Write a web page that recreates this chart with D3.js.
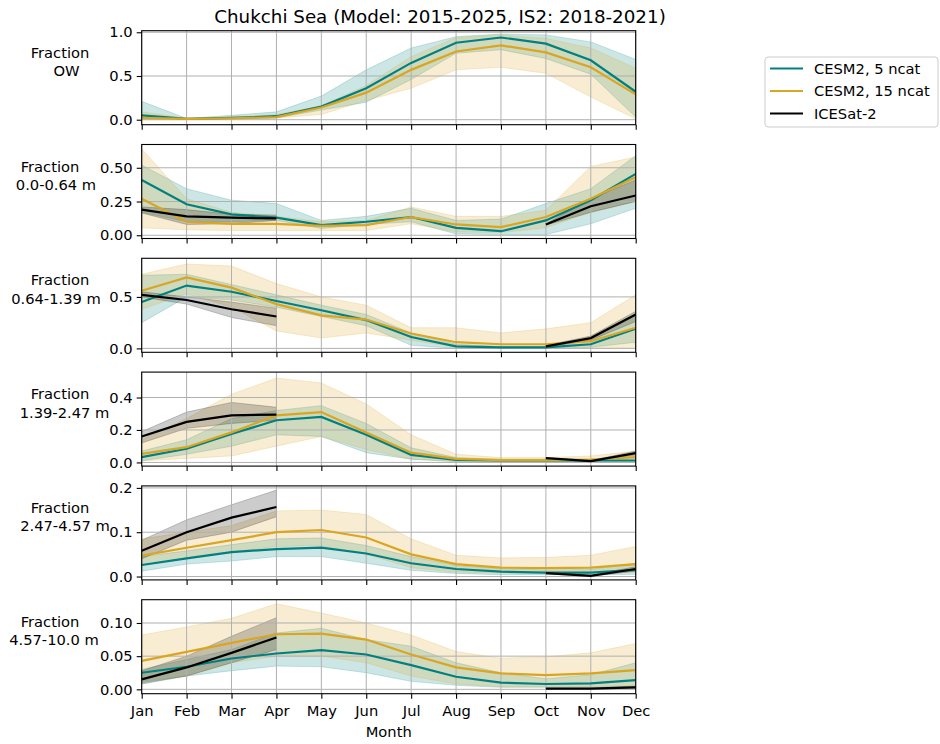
<!DOCTYPE html>
<html lang="en">
    <head>
        <meta charset="utf-8">
        <title>D3</title>
        <script type="text/javascript" src="https://cdnjs.cloudflare.com/ajax/libs/d3/7.8.5/d3.min.js"></script>
        <style type="text/css">
            body { margin: 0; background: #fff; }
            text { font-family: "DejaVu Sans", sans-serif; fill: #000; }
        </style>
    </head>
    <body>
        <script type="text/javascript">
            var months = ["Jan","Feb","Mar","Apr","May","Jun","Jul","Aug","Sep","Oct","Nov","Dec"];

            var panelLabels = [
                ["Fraction", "OW"],
                ["Fraction", "0.0-0.64 m"],
                ["Fraction", "0.64-1.39 m"],
                ["Fraction", "1.39-2.47 m"],
                ["Fraction", "2.47-4.57 m"],
                ["Fraction", "4.57-10.0 m"]
            ];

            var yTicks = [
                [0, 0.5, 1.0],
                [0, 0.25, 0.5],
                [0, 0.5],
                [0, 0.2, 0.4],
                [0, 0.1, 0.2],
                [0, 0.05, 0.1]
            ];
            var yTickFormats = [".1f", ".2f", ".1f", ".1f", ".1f", ".2f"];
            var yLimits = [
                [-0.057, 1.018],
                [-0.024, 0.6725],
                [-0.038, 0.875],
                [-0.0226, 0.5566],
                [-0.0076, 0.2045],
                [-0.0066, 0.1351]
            ];

            // CESM2, 5 ncat
            var c5Mean = [
                [0.05, 0.01, 0.02, 0.04, 0.15, 0.36, 0.65, 0.88, 0.94, 0.87, 0.68, 0.32],
                [0.41, 0.23, 0.155, 0.13, 0.075, 0.10, 0.135, 0.055, 0.03, 0.11, 0.26, 0.455],
                [0.45, 0.61, 0.55, 0.46, 0.37, 0.275, 0.11, 0.02, 0.01, 0.01, 0.04, 0.19],
                [0.033, 0.084, 0.175, 0.26, 0.28, 0.17, 0.047, 0.016, 0.012, 0.012, 0.012, 0.012],
                [0.026, 0.041, 0.055, 0.062, 0.065, 0.052, 0.03, 0.017, 0.011, 0.009, 0.009, 0.015],
                [0.025, 0.034, 0.0465, 0.054, 0.059, 0.0525, 0.0365, 0.019, 0.010, 0.008, 0.009, 0.014]
            ];
            var c5Lo = [
                [0.01, 0.005, 0.01, 0.02, 0.11, 0.20, 0.46, 0.76, 0.80, 0.70, 0.52, 0.03],
                [0.17, 0.10, 0.10, 0.11, 0.05, 0.08, 0.10, 0.01, 0.005, 0.005, 0.085, 0.20],
                [0.25, 0.50, 0.47, 0.40, 0.31, 0.22, 0.03, 0.0, 0.0, 0.0, 0.01, 0.06],
                [0.01, 0.05, 0.10, 0.17, 0.16, 0.06, 0.02, 0.005, 0.005, 0.005, 0.005, 0.005],
                [0.012, 0.028, 0.035, 0.045, 0.045, 0.03, 0.014, 0.007, 0.004, 0.004, 0.004, 0.005],
                [0.01, 0.02, 0.028, 0.035, 0.034, 0.025, 0.012, 0.006, 0.003, 0.003, 0.003, 0.004]
            ];
            var c5Hi = [
                [0.21, 0.015, 0.05, 0.09, 0.27, 0.57, 0.82, 0.95, 0.98, 0.97, 0.89, 0.69],
                [0.52, 0.345, 0.26, 0.235, 0.11, 0.14, 0.20, 0.11, 0.12, 0.235, 0.345, 0.59],
                [0.71, 0.72, 0.62, 0.52, 0.42, 0.33, 0.15, 0.04, 0.02, 0.02, 0.08, 0.32],
                [0.07, 0.14, 0.27, 0.32, 0.35, 0.24, 0.09, 0.03, 0.02, 0.02, 0.02, 0.03],
                [0.045, 0.058, 0.072, 0.085, 0.087, 0.07, 0.045, 0.025, 0.018, 0.015, 0.016, 0.03],
                [0.03, 0.045, 0.06, 0.085, 0.092, 0.075, 0.065, 0.04, 0.025, 0.016, 0.022, 0.04]
            ];

            // CESM2, 15 ncat
            var c15Mean = [
                [0.02, 0.01, 0.015, 0.03, 0.14, 0.31, 0.57, 0.78, 0.85, 0.77, 0.60, 0.29],
                [0.27, 0.10, 0.085, 0.085, 0.07, 0.075, 0.135, 0.08, 0.06, 0.135, 0.27, 0.43],
                [0.56, 0.69, 0.59, 0.43, 0.32, 0.28, 0.145, 0.06, 0.04, 0.04, 0.07, 0.20],
                [0.053, 0.094, 0.185, 0.29, 0.31, 0.185, 0.06, 0.022, 0.014, 0.014, 0.018, 0.033],
                [0.047, 0.065, 0.082, 0.10, 0.105, 0.088, 0.05, 0.028, 0.02, 0.019, 0.02, 0.028],
                [0.043, 0.0565, 0.07, 0.083, 0.084, 0.075, 0.0525, 0.033, 0.024, 0.0215, 0.024, 0.029]
            ];
            var c15Lo = [
                [0.0, 0.0, 0.005, 0.02, 0.06, 0.22, 0.36, 0.57, 0.60, 0.53, 0.26, 0.01],
                [0.055, 0.04, 0.035, 0.035, 0.035, 0.035, 0.085, 0.025, 0.02, 0.055, 0.17, 0.25],
                [0.38, 0.53, 0.40, 0.17, 0.10, 0.15, 0.08, 0.01, 0.005, 0.005, 0.005, 0.005],
                [0.01, 0.025, 0.04, 0.10, 0.16, 0.08, 0.02, 0.005, 0.005, 0.005, 0.005, 0.005],
                [0.025, 0.04, 0.055, 0.068, 0.07, 0.05, 0.02, 0.01, 0.008, 0.007, 0.007, 0.01],
                [0.012, 0.02, 0.04, 0.05, 0.05, 0.04, 0.02, 0.008, 0.004, 0.004, 0.004, 0.006]
            ];
            var c15Hi = [
                [0.09, 0.015, 0.03, 0.06, 0.16, 0.39, 0.72, 0.94, 0.97, 0.93, 0.82, 0.59],
                [0.64, 0.27, 0.17, 0.14, 0.10, 0.11, 0.21, 0.14, 0.14, 0.185, 0.51, 0.58],
                [0.72, 0.82, 0.80, 0.63, 0.50, 0.42, 0.20, 0.20, 0.15, 0.19, 0.25, 0.52],
                [0.14, 0.27, 0.42, 0.52, 0.49, 0.36, 0.17, 0.05, 0.03, 0.03, 0.04, 0.07],
                [0.085, 0.10, 0.115, 0.148, 0.15, 0.14, 0.085, 0.048, 0.042, 0.043, 0.048, 0.068],
                [0.082, 0.094, 0.107, 0.129, 0.115, 0.10, 0.082, 0.057, 0.047, 0.049, 0.055, 0.069]
            ];

            // ICESat-2 (no summer months, no open water)
            var n = null;
            var is2Mean = [
                [n, n, n, n, n, n, n, n, n, n, n, n],
                [0.19, 0.14, 0.13, 0.125, n, n, n, n, n, 0.08, 0.215, 0.295],
                [0.52, 0.47, 0.38, 0.31, n, n, n, n, n, 0.02, 0.10, 0.33],
                [0.16, 0.25, 0.29, 0.295, n, n, n, n, n, 0.026, 0.008, 0.057],
                [0.058, 0.10, 0.133, 0.157, n, n, n, n, n, 0.0075, 0.0015, 0.017],
                [0.015, 0.033, 0.055, 0.078, n, n, n, n, n, 0.001, 0.001, 0.003]
            ];
            var is2Lo = [
                [n, n, n, n, n, n, n, n, n, n, n, n],
                [0.165, 0.08, 0.085, 0.11, n, n, n, n, n, 0.075, 0.17, 0.25],
                [0.50, 0.43, 0.30, 0.22, n, n, n, n, n, 0.01, 0.08, 0.26],
                [0.12, 0.21, 0.24, 0.26, n, n, n, n, n, 0.02, 0.004, 0.045],
                [0.04, 0.082, 0.10, 0.135, n, n, n, n, n, 0.006, 0.001, 0.012],
                [0.008, 0.02, 0.04, 0.06, n, n, n, n, n, 0.0, 0.0, 0.001]
            ];
            var is2Hi = [
                [n, n, n, n, n, n, n, n, n, n, n, n],
                [0.21, 0.19, 0.155, 0.15, n, n, n, n, n, 0.085, 0.27, 0.41],
                [0.55, 0.50, 0.45, 0.39, n, n, n, n, n, 0.03, 0.12, 0.36],
                [0.19, 0.31, 0.37, 0.34, n, n, n, n, n, 0.03, 0.012, 0.07],
                [0.082, 0.128, 0.162, 0.195, n, n, n, n, n, 0.009, 0.003, 0.022],
                [0.028, 0.05, 0.08, 0.108, n, n, n, n, n, 0.002, 0.002, 0.005]
            ];

            var seriesNames = ["CESM2, 5 ncat", "CESM2, 15 ncat", "ICESat-2"];
            var seriesColors = ["#008080", "#daa520", "#000000"];

            var w = 940;
            var h = 744;
            var left = 141.7, right = 635.7;
            var top0 = 30.7, step = 113.8, ph = 94;

            var svg = d3.select("body")
                        .append("svg")
                        .attr("width", w)
                        .attr("height", h);

            var x = d3.scalePoint()
                      .domain(months)
                      .range([left, right]);

            // suptitle sits a bit right of the axes centre in the reference
            svg.append("text")
               .attr("x", 440)
               .attr("y", 22.5)
               .attr("text-anchor", "middle")
               .attr("font-size", "18.3px")
               .text("Chukchi Sea (Model: 2015-2025, IS2: 2018-2021)");

            var labelX = [[60, 66.5], [50, 56], [60, 56], [60, 64.5], [60, 65], [50, 54]];

            panelLabels.forEach(function(lab, p) {
                var t = top0 + p * step;
                var y = d3.scaleLinear()
                          .domain(yLimits[p])
                          .range([t + ph, t]);

                var g = svg.append("g");

                var groups = [
                    [c5Mean[p], c5Lo[p], c5Hi[p]],
                    [c15Mean[p], c15Lo[p], c15Hi[p]],
                    [is2Mean[p], is2Lo[p], is2Hi[p]]
                ];

                // bands first (matplotlib puts fills below grid and lines)
                groups.forEach(function(s, k) {
                    var area = d3.area()
                                 .defined(function(d, i) { return s[1][i] !== null; })
                                 .x(function(d, i) { return x(months[i]); })
                                 .y0(function(d, i) { return y(s[1][i]); })
                                 .y1(function(d, i) { return y(s[2][i]); });
                    g.append("path")
                     .attr("d", area(months))
                     .attr("fill", seriesColors[k])
                     .attr("fill-opacity", 0.2)
                     .attr("stroke", seriesColors[k])
                     .attr("stroke-opacity", 0.2)
                     .attr("stroke-width", 1);
                });

                // grid
                g.selectAll("line.vg")
                 .data(months)
                 .enter()
                 .append("line")
                 .attr("x1", function(d) { return x(d); })
                 .attr("x2", function(d) { return x(d); })
                 .attr("y1", t)
                 .attr("y2", t + ph)
                 .attr("stroke", "#b0b0b0")
                 .attr("stroke-width", 1);
                g.selectAll("line.hg")
                 .data(yTicks[p])
                 .enter()
                 .append("line")
                 .attr("x1", left)
                 .attr("x2", right)
                 .attr("y1", function(d) { return y(d); })
                 .attr("y2", function(d) { return y(d); })
                 .attr("stroke", "#b0b0b0")
                 .attr("stroke-width", 1);

                groups.forEach(function(s, k) {
                    var line = d3.line()
                                 .defined(function(d, i) { return s[0][i] !== null; })
                                 .x(function(d, i) { return x(months[i]); })
                                 .y(function(d, i) { return y(s[0][i]); });
                    g.append("path")
                     .attr("d", line(months))
                     .attr("fill", "none")
                     .attr("stroke", seriesColors[k])
                     .attr("stroke-width", 2.2);
                });

                // frame
                g.append("rect")
                 .attr("x", left)
                 .attr("y", t)
                 .attr("width", right - left)
                 .attr("height", ph)
                 .attr("fill", "none")
                 .attr("stroke", "#000")
                 .attr("stroke-width", 1.1);

                var yAxis = d3.axisLeft(y)
                              .tickValues(yTicks[p])
                              .tickFormat(d3.format(yTickFormats[p]))
                              .tickSize(5)
                              .tickPadding(4);
                var ya = svg.append("g")
                            .attr("transform", "translate(" + left + ",0)")
                            .call(yAxis);
                ya.select(".domain").remove();
                ya.selectAll("text").attr("font-size", "14.7px").attr("font-family", "DejaVu Sans");
                ya.selectAll("line").attr("stroke-width", 1.1);

                var xAxis = d3.axisBottom(x)
                              .tickSize(5)
                              .tickPadding(6.5)
                              .tickFormat(p === 5 ? null : "");
                var xa = svg.append("g")
                            .attr("transform", "translate(0," + (t + ph) + ")")
                            .call(xAxis);
                xa.select(".domain").remove();
                xa.selectAll("text").attr("font-size", "14.7px").attr("font-family", "DejaVu Sans");
                xa.selectAll("line").attr("stroke-width", 1.1);

                var cy = t + ph / 2;
                svg.append("text")
                   .attr("x", labelX[p][0])
                   .attr("y", cy - 20)
                   .attr("text-anchor", "middle")
                   .attr("font-size", "14.7px")
                   .text(lab[0]);
                svg.append("text")
                   .attr("x", labelX[p][1])
                   .attr("y", cy - 1.5)
                   .attr("text-anchor", "middle")
                   .attr("font-size", "14.7px")
                   .text(lab[1]);
            });

            svg.append("text")
               .attr("x", (left + right) / 2)
               .attr("y", 737)
               .attr("text-anchor", "middle")
               .attr("font-size", "14.7px")
               .text("Month");

            // legend
            var lg = svg.append("g").attr("transform", "translate(765,57)");
            lg.append("rect")
              .attr("width", 173)
              .attr("height", 70)
              .attr("rx", 3)
              .attr("fill", "#fff")
              .attr("fill-opacity", 0.8)
              .attr("stroke", "#cccccc")
              .attr("stroke-width", 1);
            lg.selectAll("line")
              .data(seriesNames)
              .enter()
              .append("line")
              .attr("x1", 5)
              .attr("x2", 38)
              .attr("y1", function(d, i) { return 11.5 + i * 22.5; })
              .attr("y2", function(d, i) { return 11.5 + i * 22.5; })
              .attr("stroke", function(d, i) { return seriesColors[i]; })
              .attr("stroke-width", 2.2);
            lg.selectAll("text")
              .data(seriesNames)
              .enter()
              .append("text")
              .attr("x", 49)
              .attr("y", function(d, i) { return 16.5 + i * 22.5; })
              .attr("font-size", "14.7px")
              .text(function(d) { return d; });
        </script>
    </body>
</html>
